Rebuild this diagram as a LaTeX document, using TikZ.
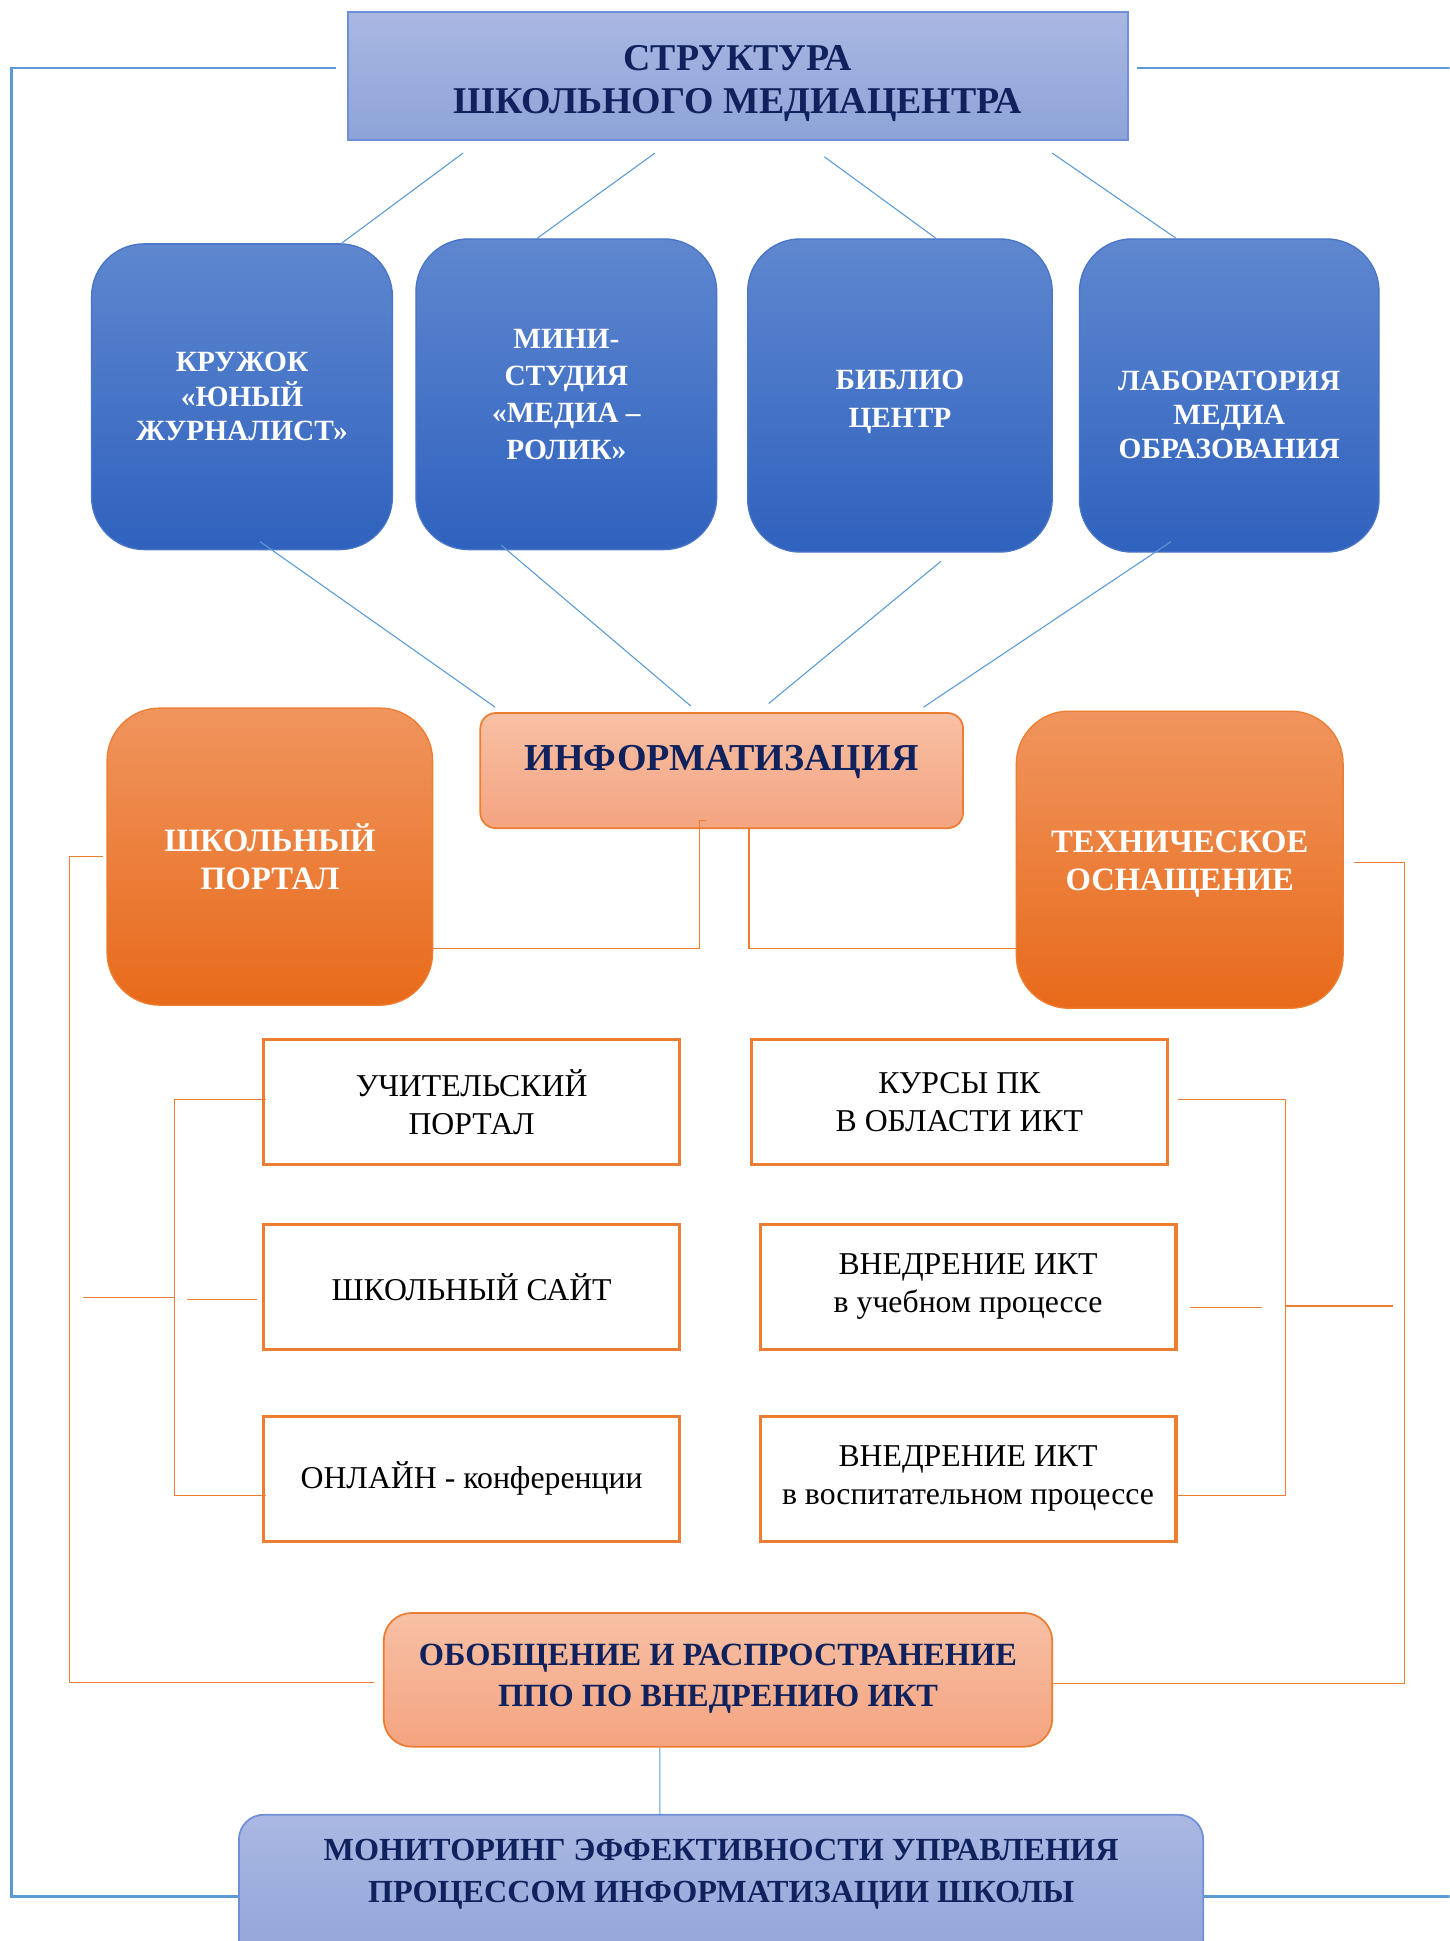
\documentclass[tikz,border=0pt]{standalone}
\usepackage{fontspec}
\setmainfont{Liberation Serif}
\definecolor{navy}{HTML}{10225E}
\definecolor{lavtop}{HTML}{AAB8E2}
\definecolor{lavbot}{HTML}{8DA3D8}
\definecolor{lavedge}{HTML}{6F8FD8}
\definecolor{bluetop}{HTML}{5E87CF}
\definecolor{bluebot}{HTML}{2F62BE}
\definecolor{blueedge}{HTML}{4A74C6}
\definecolor{ortop}{HTML}{F0955E}
\definecolor{orbot}{HTML}{E86A1A}
\definecolor{peachtop}{HTML}{F7C0A5}
\definecolor{peachbot}{HTML}{F4A480}
\definecolor{oredge}{HTML}{ED7D31}
\definecolor{lineblue}{HTML}{5B9BD5}
\tikzset{
  lavbox/.style={draw=lavedge,line width=0.8pt,top color=lavtop,bottom color=lavbot,text=navy,align=center},
  bluebox/.style={draw=blueedge,line width=0.6pt,rounded corners=0.85cm,top color=bluetop,bottom color=bluebot,text=white,align=center,
    font=\bfseries\fontsize{13.5}{15.8}\selectfont},
  orbox/.style={draw=oredge,line width=0.6pt,rounded corners=0.85cm,top color=ortop,bottom color=orbot,text=white,align=center,
    minimum width=5.26cm,minimum height=4.8cm,font=\bfseries\fontsize{15}{17.5}\selectfont},
  peachbox/.style={draw=oredge,line width=0.8pt,top color=peachtop,bottom color=peachbot,text=navy,align=center},
  wbox/.style={draw=oredge,line width=1.4pt,fill=white,minimum width=6.72cm,minimum height=2.02cm,align=center,
    font=\fontsize{14.6}{17.4}\selectfont},
  bline/.style={draw=lineblue,line width=0.5pt},
  fline/.style={draw=lineblue,line width=1.1pt},
  oline/.style={draw=oredge,line width=0.6pt}
}
\begin{document}
\begin{tikzpicture}[x=1cm,y=1cm]
  \clip (0,0) rectangle (23.42,-31.36);
  % верхний блок
  \node[lavbox,minimum width=12.6cm,minimum height=2.06cm,text height=1.35cm,font=\bfseries\fontsize{17.4}{19.8}\selectfont] (title) at (11.92,-1.23)
    {СТРУКТУРА\\ШКОЛЬНОГО МЕДИАЦЕНТРА};
  % подразделения
  \node[bluebox,minimum width=4.86cm,minimum height=4.94cm] (kruzhok) at (3.91,-6.41) {КРУЖОК\\«ЮНЫЙ\\ЖУРНАЛИСТ»};
  \node[bluebox,minimum width=4.86cm,minimum height=5.02cm,font=\bfseries\fontsize{13.5}{17}\selectfont] (studio) at (9.15,-6.37) {МИНИ-\\СТУДИЯ\\«МЕДИА –\\РОЛИК»};
  \node[bluebox,minimum width=4.92cm,minimum height=5.06cm,text height=1.15cm,font=\bfseries\fontsize{13.5}{17.5}\selectfont] (biblio) at (14.54,-6.39) {БИБЛИО\\ЦЕНТР};
  \node[bluebox,minimum width=4.84cm,minimum height=5.06cm,text height=2.05cm] (lab) at (19.86,-6.39) {ЛАБОРАТОРИЯ\\МЕДИА\\ОБРАЗОВАНИЯ};
  % информатизация
  \node[peachbox,rounded corners=0.25cm,minimum width=7.8cm,minimum height=1.86cm,text height=0.45cm,text depth=0.45cm,
    font=\bfseries\fontsize{17.5}{20}\selectfont] (inform) at (11.66,-12.45) {ИНФОРМАТИЗАЦИЯ};
  \node[orbox] (portal) at (4.36,-13.84) {ШКОЛЬНЫЙ\\ПОРТАЛ};
  \node[orbox,minimum width=5.28cm,text height=1.1cm] (tech) at (19.06,-13.89) {ТЕХНИЧЕСКОЕ\\ОСНАЩЕНИЕ};
  % направления
  \node[wbox] (uchport) at (7.62,-17.81) {УЧИТЕЛЬСКИЙ\\ПОРТАЛ};
  \node[wbox] (site) at (7.62,-20.79) {ШКОЛЬНЫЙ САЙТ};
  \node[wbox] (online) at (7.62,-23.89) {ОНЛАЙН - конференции};
  \node[wbox] (kursy) at (15.5,-17.81) {КУРСЫ ПК\\В ОБЛАСТИ ИКТ};
  \node[wbox] (vnedrU) at (15.64,-20.79) {ВНЕДРЕНИЕ ИКТ\\в учебном процессе};
  \node[wbox] (vnedrV) at (15.64,-23.89) {ВНЕДРЕНИЕ ИКТ\\в воспитательном процессе};
  % итоговые блоки
  \node[peachbox,rounded corners=0.45cm,minimum width=10.8cm,minimum height=2.16cm,text depth=0.15cm,font=\bfseries\fontsize{14.9}{18.6}\selectfont]
    (obobsh) at (11.6,-27.14) {ОБОБЩЕНИЕ И РАСПРОСТРАНЕНИЕ\\ППО ПО ВНЕДРЕНИЮ ИКТ};
  \node[lavbox,rounded corners=0.4cm,minimum width=15.58cm,minimum height=2.64cm,
    label={[text=navy,align=center,yshift=0.36cm,font=\bfseries\fontsize{14.8}{19.2}\selectfont]center:МОНИТОРИНГ ЭФФЕКТИВНОСТИ УПРАВЛЕНИЯ\\ПРОЦЕССОМ ИНФОРМАТИЗАЦИИ ШКОЛЫ}]
    (monitor) at (11.65,-30.64) {};
  % рамка
  \draw[fline] ([shift={(-0.18,0.13)}]title.west) -- ++(-5.24,0) |- (monitor.west);
  \draw[fline] ([shift={(0.14,0.13)}]title.east) -- ++(5.06,0);
  \draw[fline] (monitor.east) -- ++(3.98,0);
  % связи сверху
  \foreach \n/\a/\b/\c in {kruzhok/-4.44/-0.2/1.61,studio/-1.34/-0.2/-0.47,biblio/1.4/-0.26/0.58,lab/5.08/-0.2/-0.86}
    \draw[bline] ([shift={(\a,\b)}]title.south) -- ([shift={(\c,0)}]\n.north);
  \draw[bline] ([shift={(0.29,0.14)}]kruzhok.south) -- ([shift={(-3.66,0.08)}]inform.north);
  \draw[bline] ([shift={(-1.05,0.08)}]studio.south) -- ([shift={(-0.5,0.1)}]inform.north);
  \draw[bline] ([shift={(0.66,-0.14)}]biblio.south) -- ([shift={(0.76,0.14)}]inform.north);
  \draw[bline] ([shift={(-0.94,0.18)}]lab.south) -- ([shift={(3.26,0.08)}]inform.north);
  % информатизация -- портал, оснащение
  \draw[oline] ([shift={(-0.26,0.14)}]inform.south) -- ++(-0.1,0) |- ([yshift=-1.48cm]portal.east);
  \draw[oline] ([xshift=0.44cm]inform.south) |- ([yshift=-1.43cm]tech.west);
  % левые скобки
  \draw[oline] ([xshift=-0.06cm]portal.west) -- ++(-0.54,0) |- ([shift={(-0.14,-0.04)}]obobsh.west);
  \draw[oline] ([shift={(0.06,0.05)}]uchport.west) -- ++(-1.48,0) |- ([shift={(0.06,-0.27)}]online.west);
  \draw[oline] ([shift={(-1.42,-0.17)}]site.west) -- ++(-1.48,0);
  \draw[oline] ([shift={(-0.08,-0.21)}]site.west) -- ++(-1.14,0);
  % правые скобки
  \draw[oline] ([shift={(0.16,-0.05)}]tech.east) -- ++(0.82,0) |- ([yshift=-0.06cm]obobsh.east);
  \draw[oline] ([shift={(0.14,0.05)}]kursy.east) -- ++(1.74,0) |- ([yshift=-0.27cm]vnedrV.east);
  \draw[oline] ([shift={(0.2,-0.33)}]vnedrU.east) -- ++(1.16,0);
  \draw[oline] ([shift={(1.76,-0.31)}]vnedrU.east) -- ++(1.72,0);
  % обобщение -- мониторинг
  \draw[bline] ([xshift=-0.94cm]obobsh.south) -- ([xshift=-0.99cm]monitor.north);
\end{tikzpicture}
\end{document}
